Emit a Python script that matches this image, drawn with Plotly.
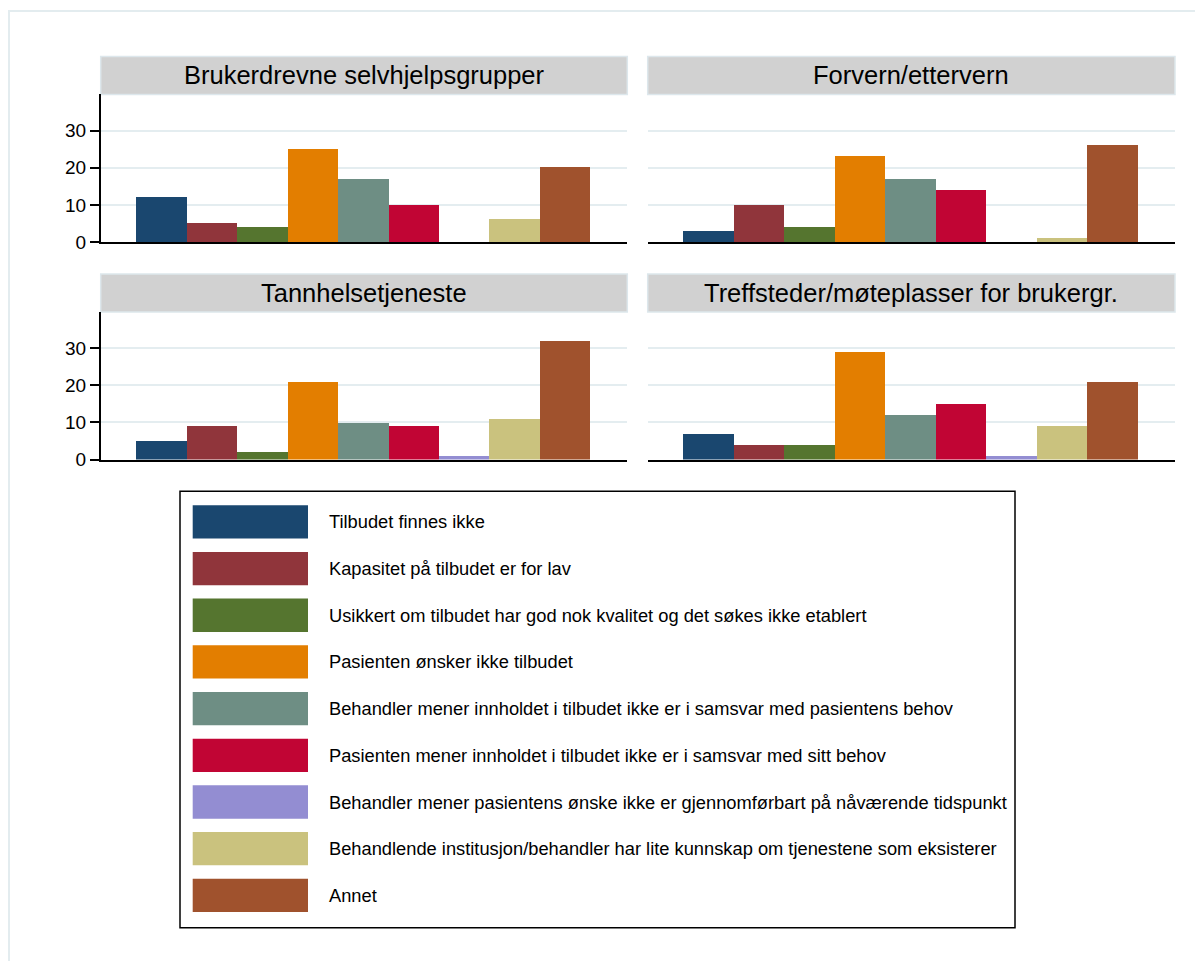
import plotly.graph_objects as go

# the page body adds an 8px margin on the top/left
OX, OY = 8, 8
W, H = 1203 - OX, 961 - OY
YS = 1.012  # small vertical stretch, the render came out a bit short

# panel titles (Stata by() groups)
panels = ["Brukerdrevne selvhjelpsgrupper", "Forvern/ettervern",
          "Tannhelsetjeneste", "Treffsteder/møteplasser for brukergr."]

reasons = [
    "Tilbudet finnes ikke",
    "Kapasitet på tilbudet er for lav",
    "Usikkert om tilbudet har god nok kvalitet og det søkes ikke etablert",
    "Pasienten ønsker ikke tilbudet",
    "Behandler mener innholdet i tilbudet ikke er i samsvar med pasientens behov",
    "Pasienten mener innholdet i tilbudet ikke er i samsvar med sitt behov",
    "Behandler mener pasientens ønske ikke er gjennomførbart på nåværende tidspunkt",
    "Behandlende institusjon/behandler har lite kunnskap om tjenestene som eksisterer",
    "Annet",
]

# values, one list per panel, in reason order
brukerdrevne = [12, 5, 4, 25, 17, 10, 0, 6, 20]
forvern = [3, 10, 4, 23, 17, 14, 0, 1, 26]
tannhelse = [5, 9, 2, 21, 10, 9, 1, 11, 32]
treffsteder = [7, 4, 4, 29, 12, 15, 1, 9, 21]

ytick_vals = [0, 10, 20, 30]

# s2color palette
colors = ["#1a476f", "#90353b", "#55752f", "#e37e00", "#6e8e84",
          "#c10534", "#938dd2", "#cac27e", "#a0522d"]

FONT = "Liberation Sans, Arial, sans-serif"


def fx(p):
    return (p - OX) / W


def fy(p):
    return 1 - (p * YS - OY) / H


# pixel boxes of the four plot areas: (x0, x1, y_top, y_bottom)
boxes = [
    (100.7, 627.3, 94.3, 242.0),
    (647.7, 1175.0, 94.3, 242.0),
    (100.7, 627.3, 311.7, 459.3),
    (647.7, 1175.0, 311.7, 459.3),
]
strip_h = 38

fig = go.Figure()
data = [brukerdrevne, forvern, tannhelse, treffsteder]
positions = list(range(1, len(reasons) + 1))

shapes = []
annotations = []
layout = {}

for k, (vals, title, box) in enumerate(zip(data, panels, boxes)):
    n = "" if k == 0 else str(k + 1)
    x0, x1, yt, yb = box
    fig.add_trace(go.Bar(
        x=positions, y=vals, width=1,
        marker=dict(color=colors, line=dict(width=0)),
        xaxis="x" + n, yaxis="y" + n,
        showlegend=False, hoverinfo="y",
    ))
    left = k % 2 == 0
    layout["xaxis" + n] = dict(
        domain=[fx(x0), fx(x1)], anchor="y" + n,
        range=[-0.2, 10.24], showticklabels=False, showgrid=False,
        zeroline=False, showline=True, linecolor="black", linewidth=2,
        ticks="", fixedrange=True,
    )
    layout["yaxis" + n] = dict(
        domain=[fy(yb), fy(yt)], anchor="x" + n,
        range=[0, 39.75], tickvals=ytick_vals,
        showticklabels=left, ticks="outside" if left else "",
        ticklen=9, tickwidth=1.5, tickcolor="black",
        showline=left, linecolor="black", linewidth=1.5,
        showgrid=True, gridcolor="#e4edf0", gridwidth=2,
        zeroline=False, tickfont=dict(size=19, color="black", family=FONT),
        fixedrange=True,
    )
    # strip header
    shapes.append(dict(
        type="rect", xref="paper", yref="paper",
        x0=fx(x0), x1=fx(x1), y0=fy(yt), y1=fy(yt - strip_h),
        fillcolor="#d1d1d1", line=dict(color="#dde7ec", width=1.5),
        layer="below",
    ))
    annotations.append(dict(
        xref="paper", yref="paper", x=fx((x0 + x1) / 2),
        y=fy(yt - strip_h / 2), text=title, showarrow=False,
        xanchor="center", yanchor="middle",
        font=dict(size=25.5, color="black", family=FONT),
    ))

# outer graph region border (runs off the right and bottom edges)
shapes.append(dict(
    type="rect", xref="paper", yref="paper",
    x0=fx(9), x1=fx(1225), y0=fy(985), y1=fy(11),
    line=dict(color="#e3ecef", width=2), fillcolor="rgba(0,0,0,0)",
    layer="below",
))

# legend box drawn by hand so the swatches can be Stata-sized
shapes.append(dict(
    type="rect", xref="paper", yref="paper",
    x0=fx(180), x1=fx(1015), y0=fy(927.3), y1=fy(491),
    line=dict(color="black", width=1.5), fillcolor="white",
))
row0, step, sw_h = 505, 46.67, 33.3
for i, (label, c) in enumerate(zip(reasons, colors)):
    top = row0 + i * step
    shapes.append(dict(
        type="rect", xref="paper", yref="paper",
        x0=fx(192.7), x1=fx(308), y0=fy(top + sw_h), y1=fy(top),
        fillcolor=c, line=dict(width=0),
    ))
    annotations.append(dict(
        xref="paper", yref="paper", x=fx(326.7), y=fy(top + sw_h / 2),
        text=label, showarrow=False, xanchor="left", yanchor="middle",
        font=dict(size=18.3, color="black", family=FONT),
    ))

fig.update_layout(
    width=W, height=H,
    margin=dict(l=0, r=0, t=0, b=0),
    paper_bgcolor="white", plot_bgcolor="white",
    font=dict(family=FONT, color="black"),
    shapes=shapes, annotations=annotations,
    bargap=0,
    **layout,
)

fig.write_html("out.html")
